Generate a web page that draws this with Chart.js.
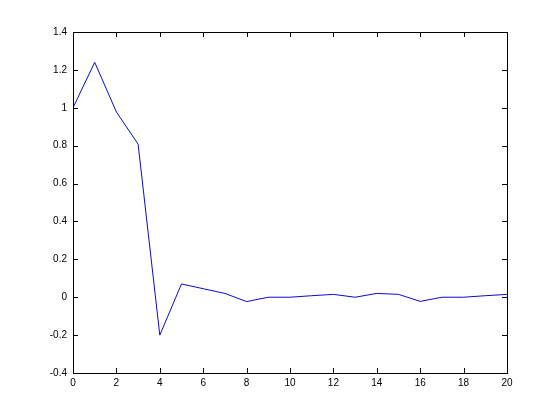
<!DOCTYPE html>
<html>
<head>
<meta charset="utf-8">
<script src="https://cdn.jsdelivr.net/npm/chart.js@4/dist/chart.umd.min.js"></script>
<style>
  html, body { margin: 0; padding: 0; background: #fff; }
  #wrap { width: 560px; height: 420px; }
</style>
</head>
<body>
<div id="wrap"><canvas id="c"></canvas></div>
<script>
// sample index and response values
const xValues = [0, 1, 2, 3, 4, 5, 6, 7, 8, 9, 10, 11, 12, 13, 14, 15, 16, 17, 18, 19, 20]
const yValues = [1.0, 1.24, 0.978, 0.808, -0.2, 0.07, 0.045, 0.02, -0.023, 0, 0, 0.008, 0.015, 0, 0.02, 0.015, -0.022, 0, 0, 0.008, 0.015]

const xTicks = [0, 2, 4, 6, 8, 10, 12, 14, 16, 18, 20]
const yTicks = [-0.4, -0.2, 0, 0.2, 0.4, 0.6, 0.8, 1, 1.2, 1.4]

// inward tick marks on all four sides, like a matlab axes box
const inwardTicks = {
    id: 'inwardTicks',
    afterDraw(chart) {
        const ctx = chart.ctx
        const a = chart.chartArea
        const xs = chart.scales.x
        const ys = chart.scales.y
        const len = 5
        ctx.save()
        ctx.strokeStyle = '#000'
        ctx.lineWidth = 1
        ctx.beginPath()
        xTicks.forEach(v => {
            let px = Math.round(xs.getPixelForValue(v)) + 0.5
            ctx.moveTo(px, a.bottom); ctx.lineTo(px, a.bottom - len)
            ctx.moveTo(px, a.top); ctx.lineTo(px, a.top + len)
        })
        yTicks.forEach(v => {
            let py = Math.round(ys.getPixelForValue(v)) + 0.5
            ctx.moveTo(a.left, py); ctx.lineTo(a.left + len, py)
            ctx.moveTo(a.right, py); ctx.lineTo(a.right - len, py)
        })
        ctx.stroke()
        ctx.strokeRect(Math.round(a.left) + 0.5, Math.round(a.top) + 0.5,
            Math.round(a.right - a.left), Math.round(a.bottom - a.top))
        ctx.restore()
    }
}

const points = xValues.map((x, i) => ({ x: x, y: yValues[i] }))

const config = {
    type: 'line',
    data: {
        datasets: [{
            data: points,
            borderColor: '#0a0ad0',
            borderWidth: 1,
            pointRadius: 0,
            tension: 0,
            fill: false
        }]
    },
    options: {
        responsive: true,
        maintainAspectRatio: false,
        animation: false,
        layout: { padding: { left: 0, top: 32, right: 53, bottom: 0 } },
        plugins: {
            legend: { display: false },
            tooltip: { enabled: false }
        },
        scales: {
            x: {
                type: 'linear',
                min: 0,
                max: 20,
                afterFit: s => { s.height = 47 },
                afterBuildTicks: s => { s.ticks = xTicks.map(v => ({ value: v })) },
                grid: { display: false, drawTicks: false },
                border: { display: false },
                ticks: { color: '#000', padding: 4, maxRotation: 0,
                    font: { family: 'Liberation Sans, Arial, sans-serif', size: 10 } }
            },
            y: {
                type: 'linear',
                min: -0.4,
                max: 1.4,
                afterFit: s => { s.width = 73 },
                afterBuildTicks: s => { s.ticks = yTicks.map(v => ({ value: v })) },
                grid: { display: false, drawTicks: false },
                border: { display: false },
                ticks: { color: '#000', padding: 6,
                    callback: v => String(Math.round(v * 10) / 10),
                    font: { family: 'Liberation Sans, Arial, sans-serif', size: 10 } }
            }
        }
    },
    plugins: [inwardTicks]
}

var ctx = document.getElementById('c').getContext('2d')
var myChart = new Chart(ctx, config)
</script>
</body>
</html>
